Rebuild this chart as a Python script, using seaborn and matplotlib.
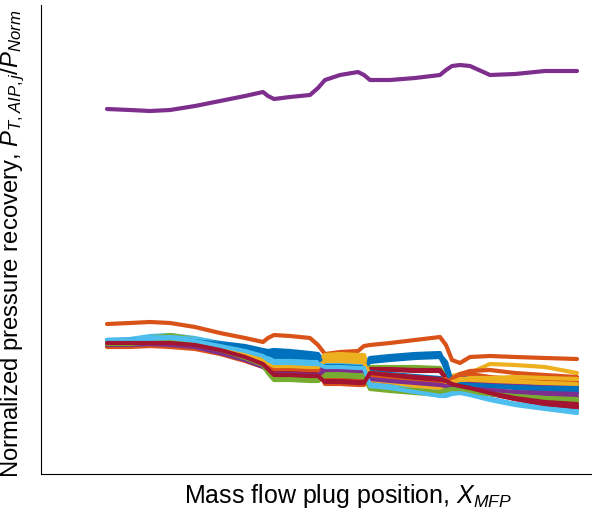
import matplotlib
matplotlib.use("Agg")
import matplotlib.pyplot as plt
import seaborn as sns
import pandas as pd

# Plug position samples (mm of travel from the first recorded point)
x_mfp = [0, 23, 43, 63, 88, 113, 138, 156, 161, 167, 183, 203, 211, 218, 233,
         251, 257, 263, 283, 308, 333, 339, 345, 353, 363, 383, 408, 438, 470]

# Pressure recovery per AIP probe (arbitrary normalized units)
probe_01 = [133, 133, 134, 134, 133, 130, 126, 121, 123, 124, 123, 121, 120, 111, 110, 110, 109, 116, 118, 120, 121, 104, 86, 88, 90, 90, 90, 91, 91]
probe_02 = [150, 151, 152, 151, 147, 141, 136, 132, 136, 139, 138, 136, 129, 120, 122, 123, 128, 129, 131, 134, 137, 129, 114, 111, 117, 118, 117, 116, 115]
probe_03 = [133, 133, 134, 134, 132, 128, 123, 118, 116, 114, 113, 112, 111, 119, 120, 119, 119, 101, 99, 96, 93, 95, 98, 100, 101, 110, 109, 107, 101]
probe_04 = [365, 364, 363, 364, 368, 373, 378, 382, 378, 375, 377, 379, 386, 394, 399, 402, 399, 394, 394, 396, 399, 404, 408, 409, 408, 399, 400, 403, 403]
probe_05 = [130, 131, 132, 131, 129, 124, 117, 110, 103, 97, 96, 95, 94, 102, 102, 101, 100, 107, 107, 107, 106, 96, 90, 86, 83, 80, 77, 74, 72]
probe_06 = [134, 135, 138, 139, 136, 131, 126, 120, 118, 116, 116, 115, 114, 112, 112, 111, 111, 91, 88, 84, 80, 80, 82, 84, 80, 75, 70, 66, 62]
probe_07 = [131, 131, 132, 132, 130, 125, 118, 112, 109, 106, 106, 105, 104, 97, 97, 96, 96, 105, 105, 104, 104, 96, 90, 88, 86, 82, 77, 72, 69]
probe_08 = [134, 134, 135, 135, 134, 131, 128, 124, 123, 122, 121, 120, 118, 110, 110, 109, 109, 114, 116, 118, 119, 112, 92, 95, 100, 92, 88, 84, 81]
probe_09 = [127, 127, 128, 127, 125, 120, 113, 107, 108, 109, 109, 108, 107, 90, 90, 89, 89, 99, 96, 92, 88, 90, 92, 92, 91, 89, 87, 85, 84]
probe_10 = [132, 132, 133, 133, 131, 126, 120, 115, 113, 112, 112, 111, 110, 117, 117, 116, 116, 96, 94, 91, 88, 90, 92, 93, 93, 92, 91, 89, 88]
probe_11 = [130, 130, 131, 130, 128, 123, 116, 109, 106, 104, 104, 103, 103, 108, 108, 107, 107, 97, 95, 93, 91, 90, 91, 90, 90, 89, 88, 87, 87]
probe_12 = [131, 132, 136, 139, 135, 128, 121, 116, 105, 96, 96, 95, 95, 100, 100, 99, 99, 86, 84, 82, 80, 84, 86, 86, 84, 80, 77, 74, 72]
probe_13 = [134, 134, 136, 137, 135, 130, 125, 121, 118, 115, 115, 114, 114, 110, 110, 109, 109, 90, 88, 85, 81, 81, 82, 83, 80, 75, 70, 67, 64]
probe_14 = [132, 132, 132, 132, 130, 125, 119, 113, 109, 103, 103, 102, 102, 95, 95, 94, 94, 104, 104, 103, 103, 95, 90, 88, 86, 81, 75, 70, 66]
probe_15 = [133, 133, 134, 134, 133, 129, 125, 120, 119, 117, 117, 116, 115, 106, 105, 105, 105, 102, 100, 98, 96, 93, 90, 90, 89, 88, 86, 84, 83]
probe_16 = [131, 131, 131, 131, 129, 124, 118, 112, 109, 107, 107, 106, 106, 94, 94, 93, 93, 101, 99, 97, 94, 95, 96, 99, 100, 97, 95, 93, 92]
probe_17 = [133, 133, 134, 134, 132, 127, 122, 117, 113, 110, 110, 109, 109, 115, 115, 114, 114, 97, 95, 92, 89, 92, 94, 95, 95, 94, 93, 91, 90]
probe_18 = [130, 130, 130, 130, 128, 122, 115, 108, 105, 102, 102, 101, 101, 106, 106, 105, 105, 94, 92, 89, 87, 88, 88, 87, 86, 84, 81, 79, 77]
probe_19 = [131, 131, 133, 134, 131, 125, 117, 110, 102, 95, 95, 94, 93, 99, 99, 98, 98, 85, 83, 81, 79, 83, 85, 84, 82, 80, 78, 76, 74]
probe_20 = [134, 134, 136, 137, 134, 129, 124, 119, 116, 113, 113, 112, 112, 109, 109, 108, 108, 89, 87, 83, 79, 79, 81, 82, 80, 75, 70, 66, 63]
probe_21 = [131, 131, 131, 131, 129, 124, 117, 111, 106, 101, 101, 100, 100, 93, 93, 92, 92, 100, 98, 96, 93, 92, 90, 88, 86, 80, 75, 70, 67]
probe_22 = [133, 133, 134, 134, 133, 130, 126, 121, 120, 119, 119, 118, 117, 108, 108, 107, 107, 112, 114, 116, 117, 106, 90, 90, 89, 88, 87, 86, 86]
probe_23 = [130, 130, 130, 130, 128, 123, 116, 109, 107, 105, 105, 104, 104, 91, 91, 90, 90, 98, 95, 92, 90, 92, 95, 100, 103, 104, 101, 99, 97]
probe_24 = [132, 132, 133, 133, 131, 126, 120, 114, 111, 108, 108, 107, 107, 113, 113, 112, 112, 94, 92, 88, 86, 89, 92, 94, 96, 96, 97, 96, 95]
probe_25 = [129, 129, 130, 129, 127, 121, 114, 107, 103, 100, 100, 99, 99, 104, 104, 103, 103, 95, 93, 91, 89, 88, 87, 86, 85, 84, 82, 81, 80]
probe_26 = [130, 130, 132, 133, 130, 124, 116, 109, 101, 94, 94, 93, 93, 98, 98, 97, 97, 87, 85, 84, 82, 84, 85, 84, 82, 80, 78, 76, 75]
probe_27 = [133, 133, 135, 136, 133, 128, 123, 118, 114, 111, 111, 110, 110, 107, 107, 106, 106, 88, 86, 82, 78, 78, 80, 81, 79, 74, 69, 65, 61]
probe_28 = [131, 131, 131, 131, 129, 124, 117, 110, 105, 99, 99, 98, 98, 92, 92, 91, 91, 101, 99, 97, 95, 93, 90, 88, 86, 81, 76, 72, 70]

probes = [probe_01, probe_02, probe_03, probe_04, probe_05, probe_06, probe_07,
          probe_08, probe_09, probe_10, probe_11, probe_12, probe_13, probe_14,
          probe_15, probe_16, probe_17, probe_18, probe_19, probe_20, probe_21,
          probe_22, probe_23, probe_24, probe_25, probe_26, probe_27, probe_28]

# Classic MATLAB line colour order, cycled over the probes
color_order = ["#0072BD", "#D95319", "#EDB120", "#7E2F8E", "#77AC30", "#4DBEEE", "#A2142F"]

rows = []
for i, vals in enumerate(probes):
    for xv, yv in zip(x_mfp, vals):
        rows.append({"probe": f"P{i + 1:02d}", "x": xv, "y": yv})
df = pd.DataFrame(rows)
palette = [color_order[i % len(color_order)] for i in range(len(probes))]

sns.set_theme(style="white")
plt.rcParams["font.family"] = ["Liberation Sans", "DejaVu Sans"]
plt.rcParams["mathtext.fontset"] = "custom"
plt.rcParams["mathtext.rm"] = "Liberation Sans"
plt.rcParams["mathtext.it"] = "Liberation Sans:italic"

fig = plt.figure(figsize=(5.92, 5.14), dpi=100)
ax = fig.add_axes([41 / 592, 40 / 514, 551 / 592, 469 / 514])

sns.lineplot(data=df, x="x", y="y", hue="probe", palette=palette,
             estimator=None, legend=False, linewidth=3.0, ax=ax,
             solid_capstyle="round", solid_joinstyle="round")

ax.set_xlim(-66, 485)
ax.set_ylim(0, 469)
ax.set_xticks([])
ax.set_yticks([])
for side in ("top", "right"):
    ax.spines[side].set_visible(False)
for side in ("left", "bottom"):
    ax.spines[side].set_color("black")
    ax.spines[side].set_linewidth(0.8)

ax.set_xlabel("Mass flow plug position, $X_{MFP}$", fontsize=18, color="black")
ax.set_ylabel("Normalized pressure recovery, $P_{T,AIP,j}/P_{Norm}$", fontsize=17.2, color="black")
ax.xaxis.set_label_coords(0.557, -0.018)
ax.yaxis.set_label_coords(-0.026, 0.492)

fig.savefig("out.png", dpi=100)
